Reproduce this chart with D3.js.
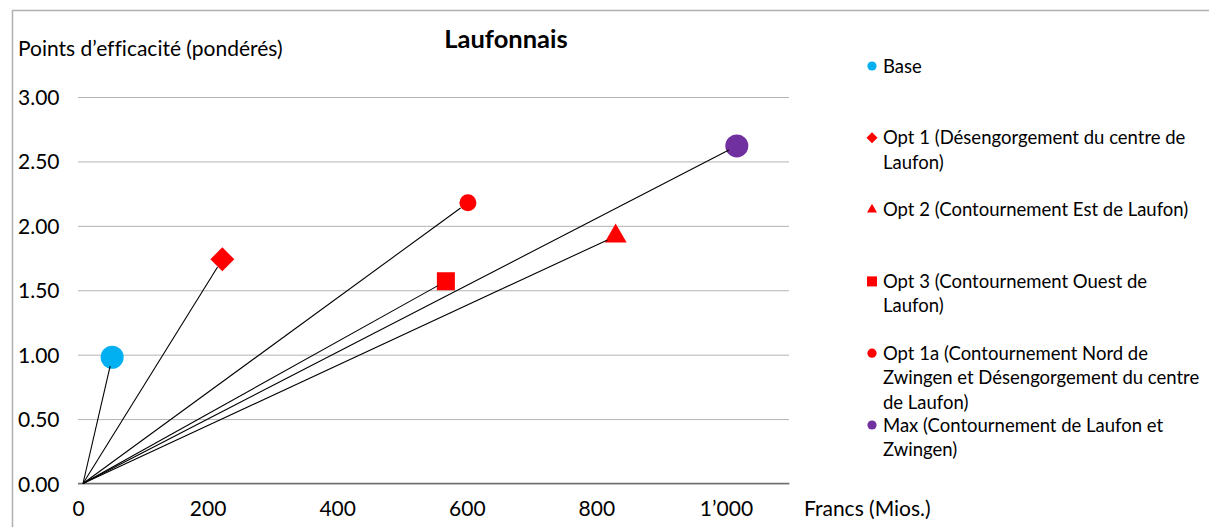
<!DOCTYPE html>
<html>
<head>
<meta charset="utf-8">
<script src="https://cdn.jsdelivr.net/npm/d3@7"></script>
<style>
  html, body { margin: 0; padding: 0; background: #fff; }
  svg { display: block; }
  text { font-family: Lato, "Open Sans", sans-serif; fill: #000; font-variant-ligatures: none; }
</style>
</head>
<body>
<svg id="chart" width="1209" height="527"></svg>
<script>
// ---- data ----
const categories = ["Base", "Opt 1", "Opt 2", "Opt 3", "Opt 1a", "Max"];
const legendLabels = [
  ["Base"],
  ["Opt 1 (Désengorgement du centre de", "Laufon)"],
  ["Opt 2 (Contournement Est de Laufon)"],
  ["Opt 3 (Contournement Ouest de", "Laufon)"],
  ["Opt 1a (Contournement Nord de", "Zwingen et Désengorgement du centre", "de Laufon)"],
  ["Max (Contournement de Laufon et", "Zwingen)"]
];
const costs  = [45, 215, 822, 560, 594, 1009];     // Francs (Mios.)
const points = [0.98, 1.74, 1.92, 1.57, 2.18, 2.62]; // Points d'efficacité (pondérés)
const xTicks = [0, 200, 400, 600, 800, 1000];
const yTicks = [0, 0.5, 1, 1.5, 2, 2.5, 3];

// ---- styles ----
const colors  = ["#00b0f0", "#ff0000", "#ff0000", "#ff0000", "#ff0000", "#7030a0"];
const shapes  = ["circle", "diamond", "triangle", "square", "circle", "circle"];
const bigSize = [11.5, 12, 22, 18, 8.5, 11.5];   // radius / half-diagonal / width / side
const smallSize = [4.6, 5.5, 10, 10, 4.6, 4.6];

function symbolPath(shape, s) {
  if (shape === "circle") return d3.symbol(d3.symbolCircle, Math.PI * s * s)();
  if (shape === "diamond") { const side = s * Math.SQRT2; return d3.symbol(d3.symbolSquare, side * side)(); }
  if (shape === "square") return d3.symbol(d3.symbolSquare, s * s)();
  if (shape === "triangle") return d3.symbol(d3.symbolTriangle, Math.sqrt(3) / 4 * s * s)();
}

const svg = d3.select("#chart");
const FS = 21;      // axis text
const LFS = 18.5;   // legend text

// outer chart border
svg.append("path").attr("d", "M12.5,527 L12.5,10.5 L1209,10.5")
  .attr("fill", "none").attr("stroke", "#b0b0b0").attr("stroke-width", 1.5);

const x = d3.scaleLinear().domain([0, 1090]).range([83, 789.3]);
const y = d3.scaleLinear().domain([0, 3]).range([483.5, 97]);

const loc = d3.formatLocale({ decimal: ".", thousands: "\u2019", grouping: [3], currency: ["", ""] });
const fx = loc.format(",");
const fy = d3.format(".2f");

// gridlines (y axis)
const yAxis = d3.axisLeft(y).tickValues(yTicks).tickFormat(fy).tickSize(-(789 - 78));
const gy = svg.append("g").attr("transform", "translate(78,0)").call(yAxis);
gy.select(".domain").remove();
gy.selectAll(".tick line").attr("stroke", "#b3b3b3").attr("stroke-width", 1);
gy.selectAll(".tick text").attr("font-size", FS).attr("font-family", "Lato, sans-serif")
  .attr("text-anchor", "start").attr("x", -60).attr("dy", "0.36em");

// x axis
const xAxis = d3.axisBottom(x).tickValues(xTicks).tickFormat(fx).tickSize(0).tickPadding(0);
const gx = svg.append("g").attr("transform", "translate(0,483.5)").call(xAxis);
gx.select(".domain").remove();
gx.selectAll(".tick text").attr("font-size", FS).attr("font-family", "Lato, sans-serif")
  .attr("dx", -5).attr("y", 32).attr("dy", 0);
svg.append("line").attr("x1", 78).attr("x2", x(1090)).attr("y1", y(0)).attr("y2", y(0))
  .attr("stroke", "#6f6f6f").attr("stroke-width", 1.6);

// data
const data = categories.map((c, i) => ({ c, cost: costs[i], pts: points[i], i }));

// markers
svg.append("g").selectAll("path").data(data).join("path")
  .attr("d", d => symbolPath(shapes[d.i], bigSize[d.i]))
  .attr("transform", d => `translate(${x(d.cost)},${y(d.pts)})` + (shapes[d.i] === "diamond" ? " rotate(45)" : ""))
  .attr("fill", d => colors[d.i]);

// lines from origin (drawn over markers, stopping a little short of centre)
const pullBack = 9;
svg.append("g").selectAll("line").data(data).join("line")
  .attr("x1", x(0)).attr("y1", y(0))
  .attr("x2", d => { const dx = x(d.cost) - x(0), dy = y(d.pts) - y(0), L = Math.hypot(dx, dy); return x(0) + dx * (L - pullBack) / L; })
  .attr("y2", d => { const dx = x(d.cost) - x(0), dy = y(d.pts) - y(0), L = Math.hypot(dx, dy); return y(0) + dy * (L - pullBack) / L; })
  .attr("stroke", "#000").attr("stroke-width", 1.1);

// titles
svg.append("text").attr("x", 506).attr("y", 48).attr("text-anchor", "middle")
  .attr("font-size", 25.5).attr("font-weight", "bold").text("Laufonnais");
svg.append("text").attr("x", 18).attr("y", 56).attr("font-size", FS).text("Points d\u2019efficacité (pondérés)");
svg.append("text").attr("x", 804).attr("y", 516).attr("font-size", FS).text("Francs (Mios.)");

// legend
const lg = svg.append("g");
const legendTop = 66, legendStep = 71.8, lineH = 24.5;
data.forEach(d => {
  const cy = legendTop + d.i * legendStep;
  lg.append("path").attr("d", symbolPath(shapes[d.i], smallSize[d.i]))
    .attr("transform", `translate(872,${cy})` + (shapes[d.i] === "diamond" ? " rotate(45)" : ""))
    .attr("fill", colors[d.i]);
  const t = lg.append("text").attr("x", 883).attr("y", cy + 6.5).attr("font-size", LFS);
  legendLabels[d.i].forEach((ln, k) => {
    t.append("tspan").attr("x", 883).attr("dy", k === 0 ? 0 : lineH).text(ln);
  });
});
</script>
</body>
</html>
